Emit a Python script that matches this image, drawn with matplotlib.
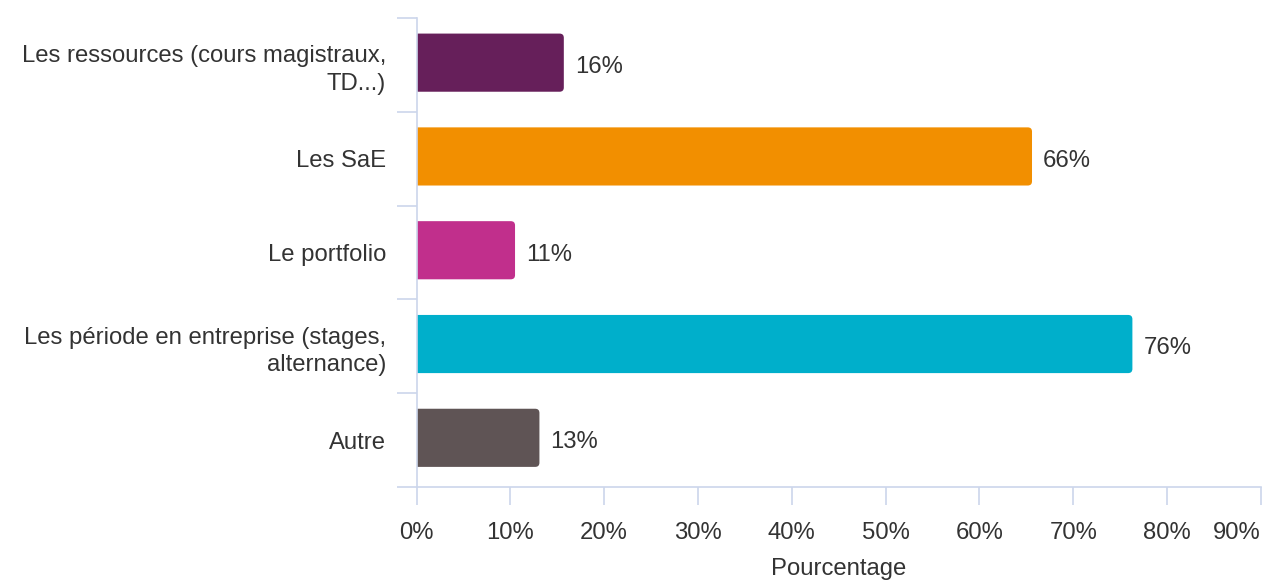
import matplotlib
matplotlib.use("Agg")
import matplotlib.pyplot as plt
from matplotlib.patches import FancyBboxPatch

plt.rcParams["font.family"] = ["Liberation Sans", "DejaVu Sans"]

categories = [
    "Les ressources (cours magistraux,\nTD...)",
    "Les SaE",
    "Le portfolio",
    "Les période en entreprise (stages,\nalternance)",
    "Autre",
]
values = [15.7, 65.6, 10.5, 76.3, 13.1]
labels = ["16%", "66%", "11%", "76%", "13%"]
colors = ["#661f5a", "#f28f00", "#c12f8c", "#00afcb", "#5f5455"]
ticks = list(range(0, 100, 10))
tick_labels = [f"{t}%" for t in ticks]

grid_col = "#ccd6eb"
txt_col = "#333333"
fs = 17.2

fig = plt.figure(figsize=(12.66, 5.84), dpi=100)
ax = fig.add_axes([0.329, 0.166, 0.667, 0.803])

pos = list(range(len(categories)))
bars = ax.barh(pos, values, height=0.62, color=colors)

# swap the plain rectangles for ones with rounded ends
for b, c in zip(bars, colors):
    b.set_visible(False)
    x0, y0 = b.get_x(), b.get_y() - 0.025
    w, h = b.get_width(), b.get_height()
    p = FancyBboxPatch((x0 - 1, y0), w + 1, h,
                       boxstyle="round,pad=0,rounding_size=0.45",
                       mutation_aspect=0.1, fc=c, ec="none")
    ax.add_patch(p)

for v, lab, y in zip(values, labels, pos):
    ax.annotate(lab, (v, y), xytext=(8, -1.5), textcoords="offset points",
                va="center", ha="left", fontsize=fs, color=txt_col)

ax.set_xlim(0, 90)
ax.set_ylim(len(categories) - 0.5, -0.5)

ax.set_xticks(ticks)
ax.set_xticklabels(tick_labels)
ax.get_xticklabels()[-1].set_horizontalalignment("right")
ax.tick_params(axis="x", length=13, width=1.2, color=grid_col,
               pad=12, labelsize=fs, labelcolor=txt_col)

ax.set_yticks(pos)
ax.set_yticklabels(categories, multialignment="right", linespacing=1.3)
ax.set_yticks([p - 0.5 for p in pos] + [pos[-1] + 0.5], minor=True)
ax.tick_params(axis="y", which="major", length=0, pad=22,
               labelsize=fs, labelcolor=txt_col)
ax.tick_params(axis="y", which="minor", length=14.4, width=1.2, color=grid_col)

for s in ["top", "right"]:
    ax.spines[s].set_visible(False)
for s in ["left", "bottom"]:
    ax.spines[s].set_color(grid_col)
    ax.spines[s].set_linewidth(1.2)

ax.set_xlabel("Pourcentage", fontsize=fs, color=txt_col, labelpad=10)

fig.savefig("out.png", dpi=100)
